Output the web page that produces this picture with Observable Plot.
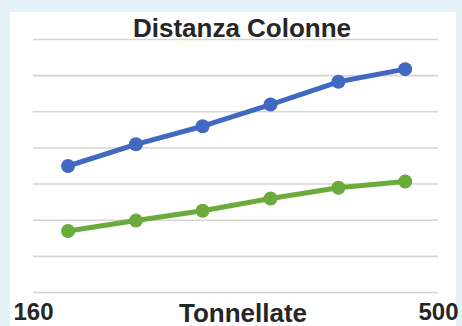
<!DOCTYPE html>
<html>
<head>
<meta charset="utf-8">
<script src="https://cdn.jsdelivr.net/npm/d3@7"></script>
<script src="https://cdn.jsdelivr.net/npm/@observablehq/plot@0.6"></script>
<style>
  html, body { margin: 0; padding: 0; }
  body { width: 462px; height: 326px; background: #e4f2fa; position: relative; overflow: hidden; font-family: "Liberation Sans", Arial, sans-serif; }
  #panel { position: absolute; left: 10px; top: 12px; width: 446px; height: 314px; background: #ffffff; }
  #title { position: absolute; left: 0; width: 484px; top: 13px; text-align: center; font-size: 26px; font-weight: bold; color: #262626; line-height: 30px; }
  #chart { position: absolute; left: 0; top: 0; }
</style>
</head>
<body>
<div id="panel"></div>
<div id="chart"></div>
<div id="title">Distanza Colonne</div>
<script>
const title = "Distanza Colonne";
const xLabel = "Tonnellate";
const tonnellate = [189, 246, 302, 359, 416, 472];
const serieBlu = [3.5, 4.1, 4.6, 5.2, 5.83, 6.18];
const serieVerde = [1.7, 1.99, 2.26, 2.6, 2.9, 3.07];
const xTicks = [160, 500];
const yGrid = [0, 1, 2, 3, 4, 5, 6, 7];

const blu = tonnellate.map((t, i) => ({x: t, y: serieBlu[i]}));
const verde = tonnellate.map((t, i) => ({x: t, y: serieVerde[i]}));

const BLUE = "#4169c2";
const GREEN = "#6bab3b";

const chart = Plot.plot({
  width: 462,
  height: 326,
  marginLeft: 33,
  marginRight: 24,
  marginTop: 39,
  marginBottom: 34,
  style: {background: "transparent", fontFamily: "Liberation Sans, Arial, sans-serif"},
  x: {type: "linear", domain: [160, 500]},
  y: {domain: [0, 7], axis: null},
  marks: [
    Plot.ruleY(yGrid, {stroke: "#d9d4d0", strokeWidth: 1.6}),
    Plot.axisX({ticks: xTicks, tickSize: 0, tickPadding: 10, tickFormat: d => String(d), fontSize: 24, fontWeight: "bold", fill: "#262626", label: null}),
    Plot.text([xLabel], {frameAnchor: "bottom", dy: 29, fontSize: 26, fontWeight: "bold", fill: "#262626", dx: 7}),
    Plot.line(verde, {x: "x", y: "y", stroke: GREEN, strokeWidth: 5}),
    Plot.dot(verde, {x: "x", y: "y", fill: GREEN, r: 7}),
    Plot.line(blu, {x: "x", y: "y", stroke: BLUE, strokeWidth: 5}),
    Plot.dot(blu, {x: "x", y: "y", fill: BLUE, r: 7})
  ]
});
document.getElementById("chart").appendChild(chart);
</script>
</body>
</html>
